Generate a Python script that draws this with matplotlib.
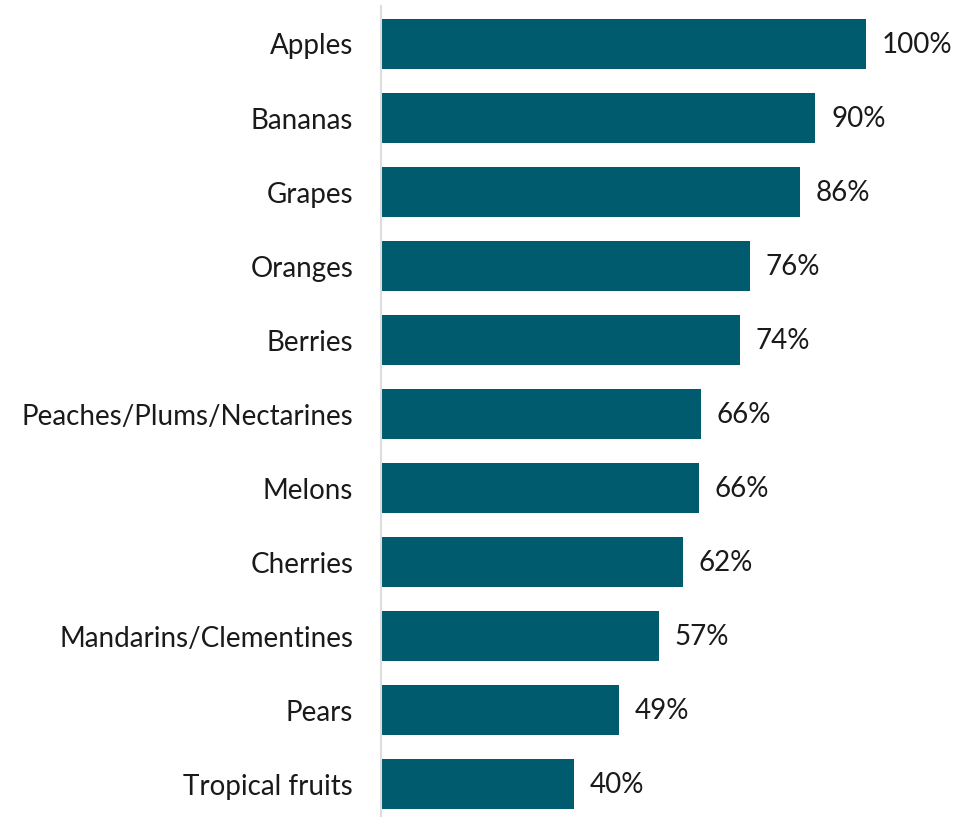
import matplotlib.pyplot as plt

plt.rcParams['font.family'] = ['Lato', 'DejaVu Sans']

fruits = ["Apples", "Bananas", "Grapes", "Oranges", "Berries",
          "Peaches/Plums/Nectarines", "Melons", "Cherries",
          "Mandarins/Clementines", "Pears", "Tropical fruits"]
shares = [100, 89.5, 86.4, 76, 74, 65.9, 65.5, 62.2, 57.3, 49, 39.8]

bar_color = "#005b6e"

fig = plt.figure(figsize=(9.73, 8.17), dpi=100)
ax = fig.add_axes([381 / 973, 0, 592 / 973, 811 / 817])

ypos = list(range(len(fruits)))
ax.barh(ypos, shares, height=0.675, color=bar_color, left=0)
ax.set_ylim(len(fruits) - 1 + 0.44, -0.513)
ax.set_xlim(0, 592 / 4.85)

for y, v in zip(ypos, shares):
    ax.annotate(f"{round(v)}%", (v, y), xytext=(11.5, -0.5), textcoords="offset points",
                va="center", ha="left", fontsize=20, color="#1a1a1a")

ax.set_yticks(ypos)
ax.set_yticklabels(fruits, fontsize=20, color="#1a1a1a")
ax.tick_params(axis="y", length=0, pad=20)
ax.set_xticks([])

for s in ["top", "right", "bottom"]:
    ax.spines[s].set_visible(False)
ax.spines["left"].set_color("#dddddd")
ax.spines["left"].set_linewidth(1.5)

fig.savefig("out.png", dpi=100)
